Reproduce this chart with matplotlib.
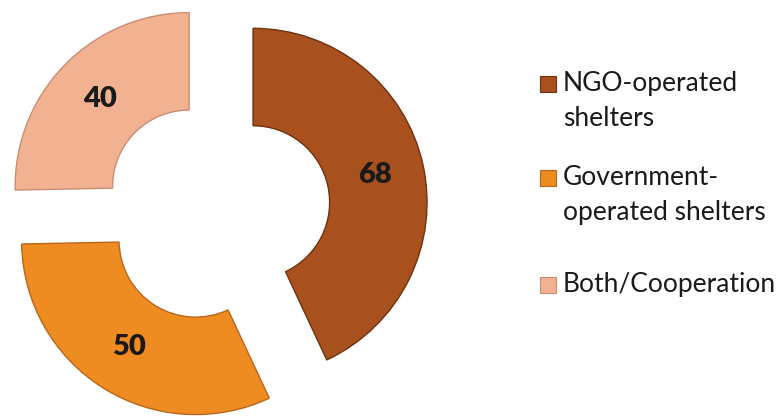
import matplotlib

matplotlib.use("Agg")
import matplotlib.pyplot as plt
from matplotlib.patches import Rectangle

labels = ["NGO-operated\nshelters", "Government-\noperated shelters", "Both/Cooperation"]
values = [68, 50, 40]
colors = ["#A8501E", "#EE8C22", "#F2B292"]
edges = ["#6E3210", "#B9661A", "#C98E72"]

plt.rcParams["font.family"] = ["Lato", "DejaVu Sans"]

W, H = 783, 417
R = 174  # outer radius in pixels
cx, cy = 214, 206  # pie centre in pixels from bottom-left

fig = plt.figure(figsize=(W / 100, H / 100), dpi=100)
ax = fig.add_axes([0, 0, 1, 1])

wedges, texts, autotexts = ax.pie(
    values,
    colors=colors,
    startangle=90,
    counterclock=False,
    explode=[0.23, 0.2, 0.2],
    wedgeprops=dict(width=0.56, linewidth=1.0),
    pctdistance=0.72,
    autopct=lambda p: f"{p * sum(values) / 100:.0f}",
    textprops=dict(fontsize=21, fontweight="heavy", color="#1a1a1a"),
)
for w, ec in zip(wedges, edges):
    w.set_edgecolor(ec)

ax.set_aspect("auto")
ax.set_xlim(-cx / R, (W - cx) / R)
ax.set_ylim(-cy / R, (H - cy) / R)
ax.axis("off")

# legend, drawn by hand to match the stacked layout
legend_y = [84, 178, 285]  # first text line centre, pixels from top
for lab, col, ec, y in zip(labels, colors, edges, legend_y):
    fig.add_artist(Rectangle(((540) / W, 1 - (y + 8) / H), 16 / W, 16 / H,
                             facecolor=col, edgecolor=ec, linewidth=0.8,
                             transform=fig.transFigure))
    fig.text(563 / W, 1 - (y - 13) / H, lab, fontsize=19, color="#1a1a1a",
             va="top", ha="left", linespacing=1.5)

fig.savefig("out.png", dpi=100)
